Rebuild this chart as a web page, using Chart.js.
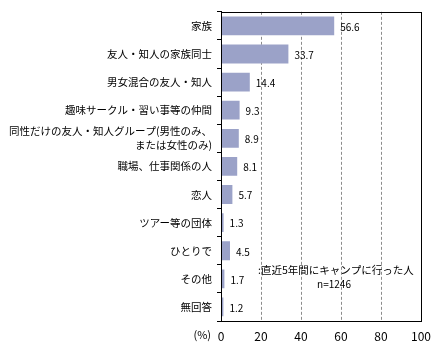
<!DOCTYPE html>
<html>
<head>
<meta charset="utf-8">
<script src="https://cdn.jsdelivr.net/npm/chart.js@4.4.0/dist/chart.umd.min.js"></script>
<style>
html, body { margin: 0; padding: 0; background: #fff; }
#wrap { width: 445px; height: 358px; position: relative; }
</style>
</head>
<body>
<div id="wrap"><canvas id="myChart" width="445" height="358"></canvas></div>
<script>
// データ
const categories = [
	'家族',
	'友人・知人の家族同士',
	'男女混合の友人・知人',
	'趣味サークル・習い事等の仲間',
	['同性だけの友人・知人グループ(男性のみ、', 'または女性のみ)'],
	'職場、仕事関係の人',
	'恋人',
	'ツアー等の団体',
	'ひとりで',
	'その他',
	'無回答'
];
const values = [56.6, 33.7, 14.4, 9.3, 8.9, 8.1, 5.7, 1.3, 4.5, 1.7, 1.2];
const xTicks = [0, 20, 40, 60, 80, 100];
const noteLines = ':直近5年間にキャンプに行った人';
const noteN = 'n=1246';

const fontFamily = '"Noto Sans CJK JP", "DejaVu Sans", sans-serif';

// 値ラベル・注記・(%)
const extras = {
	id: 'extras',
	afterDatasetsDraw(chart) {
		const ctx = chart.ctx;
		const meta = chart.getDatasetMeta(0);
		const xs = chart.scales.x;
		const ys = chart.scales.y;
		ctx.save();
		ctx.fillStyle = '#000';
		ctx.font = '10px ' + fontFamily;
		ctx.textBaseline = 'middle';
		ctx.textAlign = 'left';
		meta.data.forEach((bar, i) => {
			ctx.fillText(values[i].toFixed(1), bar.x + 6, bar.y + 1);
		});
		// 注記
		ctx.font = '10.5px ' + fontFamily;
		ctx.textAlign = 'left';
		ctx.fillText(noteLines, xs.getPixelForValue(18.5), 270);
		ctx.font = '10px ' + fontFamily;
		ctx.textAlign = 'center';
		ctx.fillText(noteN, xs.getPixelForValue(56.5), 284);
		// (%)
		ctx.font = '11px ' + fontFamily;
		ctx.textAlign = 'right';
		ctx.fillText('(%)', ys.right - 10, 335);
		ctx.restore();
	}
};

new Chart(document.getElementById('myChart').getContext('2d'), {
	type: 'bar',
	data: {
		labels: categories,
		datasets: [{
			data: values,
			backgroundColor: '#9ba2c8',
			borderWidth: 0,
			barPercentage: 0.67,
			categoryPercentage: 1
		}]
	},
	options: {
		indexAxis: 'y',
		responsive: false,
		animation: false,
		layout: { padding: { left: 0, right: 24, top: 9, bottom: 0 } },
		plugins: {
			legend: { display: false },
			tooltip: { enabled: false }
		},
		scales: {
			x: {
				min: 0,
				max: 100,
				afterBuildTicks: (s) => { s.ticks = xTicks.map(v => ({ value: v })); },
				afterFit: (s) => { s.height = 37; },
				border: { display: true, color: '#000', width: 1, dash: [3, 2] },
				grid: {
					color: (c) => (c.tick && (c.tick.value === 0 || c.tick.value === 100)) ? 'rgba(0,0,0,0)' : '#8c8c8c',
					lineWidth: 1,
					drawTicks: false
				},
				ticks: {
					color: '#000',
					padding: 8,
					font: { family: fontFamily, size: 12 }
				}
			},
			y: {
				afterFit: (s) => { s.width = 221; },
				border: { display: true, color: '#000', width: 1 },
				grid: {
					drawOnChartArea: false,
					drawTicks: true,
					tickLength: 4,
					color: '#000'
				},
				ticks: {
					autoSkip: false,
					color: '#000',
					padding: 5,
					font: { family: fontFamily, size: 10.5, lineHeight: 1.3 }
				}
			}
		}
	},
	plugins: [extras, {
		id: 'frame',
		afterDraw(chart) {
			const a = chart.chartArea;
			const ctx = chart.ctx;
			ctx.save();
			ctx.strokeStyle = '#000';
			ctx.lineWidth = 1;
			ctx.setLineDash([]);
			ctx.strokeRect(Math.round(a.left) + 0.5, Math.round(a.top) + 0.5, Math.round(a.right - a.left), Math.round(a.bottom - a.top));
			ctx.restore();
		}
	}]
});
</script>
</body>
</html>
